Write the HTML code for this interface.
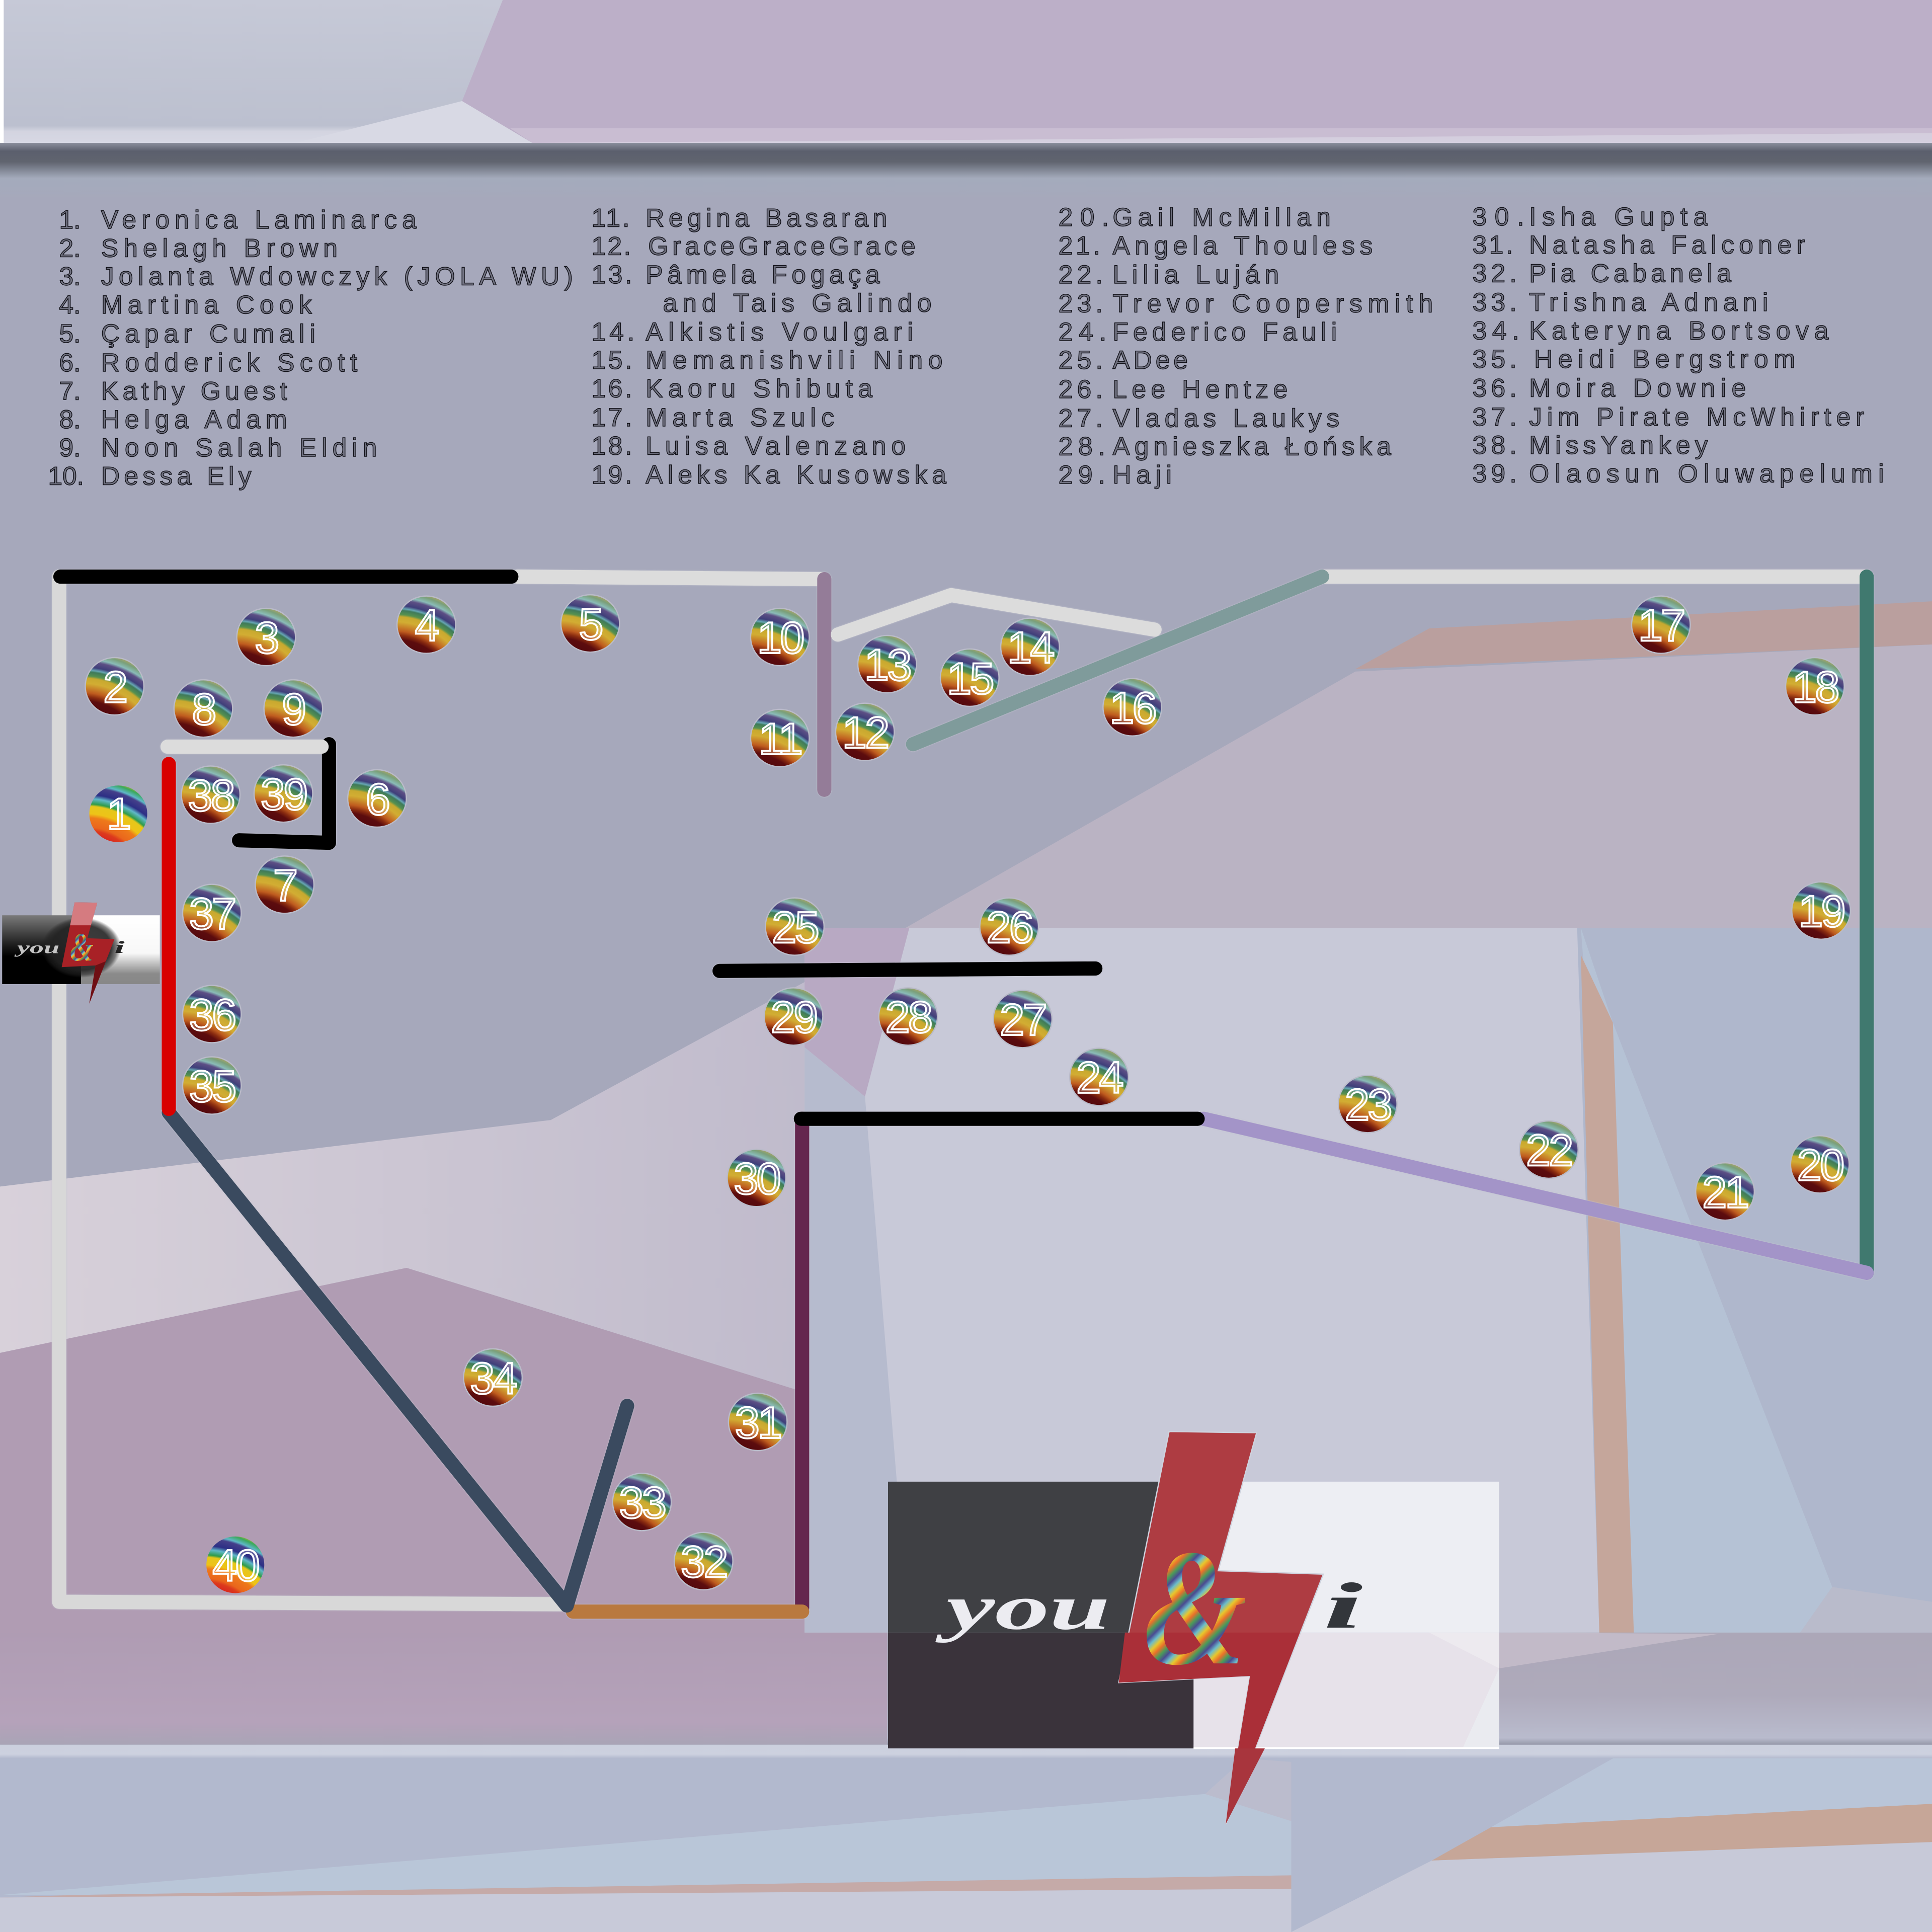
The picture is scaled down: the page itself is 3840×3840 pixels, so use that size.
<!DOCTYPE html>
<html><head><meta charset="utf-8"><style>
html,body{margin:0;padding:0;background:#a6a8bb}
svg{display:block}
.t text{font-family:"Liberation Sans","DejaVu Sans",sans-serif;font-size:21px;fill:#3d3e4a;fill-opacity:.5;stroke:#111118;stroke-width:.6}
.n{font-family:"Liberation Sans",sans-serif;font-size:36px;fill:#fff;fill-opacity:.2;stroke:#fff;stroke-width:1.5;text-anchor:middle;letter-spacing:-1.5px}
.l path{fill:none;stroke-linecap:round;stroke-linejoin:round;stroke-width:11.5}
</style></head><body>
<svg xmlns="http://www.w3.org/2000/svg" width="3840" height="3840" viewBox="0 0 1568 1568">
<defs>
<linearGradient id="top" x1="0" y1="0" x2="0" y2="1"><stop offset="0" stop-color="#c6c9d7"/><stop offset=".88" stop-color="#bcc0cf"/><stop offset=".92" stop-color="#d3d4e0"/><stop offset="1" stop-color="#d7d8e4"/></linearGradient>
<linearGradient id="bar" x1="0" y1="0" x2="0" y2="1"><stop offset="0" stop-color="#8a8e9c"/><stop offset=".14" stop-color="#5b5f6d"/><stop offset=".32" stop-color="#60646f"/><stop offset=".6" stop-color="#a4abbc"/><stop offset="1" stop-color="#a6a8bb"/></linearGradient>
<linearGradient id="pinkL" x1="0" y1="0" x2="1" y2="0"><stop offset="0" stop-color="#d8d1da"/><stop offset="1" stop-color="#c0bbcc"/></linearGradient>
<linearGradient id="band" x1="0" y1="0" x2="0" y2="1"><stop offset="0" stop-color="#aca7b8"/><stop offset=".55" stop-color="#aeaabb"/><stop offset=".93" stop-color="#b9bbcd"/><stop offset="1" stop-color="#8f92a2"/></linearGradient>
<linearGradient id="bandL" x1="0" y1="0" x2="0" y2="1"><stop offset="0" stop-color="#af9cb3"/><stop offset=".8" stop-color="#b5a2ba"/><stop offset="1" stop-color="#a9a4b6"/></linearGradient>
<linearGradient id="strip" x1="0" y1="0" x2="0" y2="1"><stop offset="0" stop-color="#cbd0de"/><stop offset=".7" stop-color="#cdd1df"/><stop offset="1" stop-color="#b3bace"/></linearGradient>
<radialGradient id="rb" gradientUnits="userSpaceOnUse" cx="-26" cy="62" r="92">
<stop offset=".44" stop-color="#4e060c"/><stop offset=".55" stop-color="#5c0c0e"/><stop offset=".585" stop-color="#8a2c10"/><stop offset=".62" stop-color="#bf5c1f"/><stop offset=".66" stop-color="#c9852a"/><stop offset=".7" stop-color="#d2ad33"/><stop offset=".745" stop-color="#c8a92f"/><stop offset=".765" stop-color="#56914f"/><stop offset=".8" stop-color="#3f7a5a"/><stop offset=".815" stop-color="#66a7b3"/><stop offset=".84" stop-color="#3f3f7a"/><stop offset=".885" stop-color="#5d4f85"/><stop offset=".91" stop-color="#8abcb8"/><stop offset=".95" stop-color="#7a9f7a"/><stop offset="1" stop-color="#c9a85c"/>
</radialGradient>
<radialGradient id="rc" gradientUnits="userSpaceOnUse" cx="-26" cy="62" r="92">
<stop offset=".46" stop-color="#d81f1f"/><stop offset=".53" stop-color="#dc3a1d"/><stop offset=".56" stop-color="#ea661c"/><stop offset=".64" stop-color="#ee7a1b"/><stop offset=".675" stop-color="#eec318"/><stop offset=".74" stop-color="#e6c71a"/><stop offset=".76" stop-color="#2f9b4a"/><stop offset=".805" stop-color="#5fb8c8"/><stop offset=".84" stop-color="#2d2f85"/><stop offset=".9" stop-color="#45408a"/><stop offset=".92" stop-color="#5fb8c8"/><stop offset=".96" stop-color="#3aa85c"/><stop offset="1" stop-color="#e8c020"/>
</radialGradient>
<linearGradient id="amp" gradientUnits="userSpaceOnUse" x1="0" y1="0" x2="14" y2="14" spreadMethod="repeat">
<stop offset="0" stop-color="#6bbccb"/><stop offset=".2" stop-color="#e8c72c"/><stop offset=".4" stop-color="#e9702a"/><stop offset=".6" stop-color="#4a9c58"/><stop offset=".8" stop-color="#4a4a92"/><stop offset="1" stop-color="#6bbccb"/>
</linearGradient>
<radialGradient id="vig"><stop offset="0" stop-color="#2a2a2c"/><stop offset=".75" stop-color="#222"/><stop offset=".9" stop-color="#222" stop-opacity=".6"/><stop offset="1" stop-color="#222" stop-opacity="0"/></radialGradient>
<linearGradient id="sL" x1="0" y1="0" x2="0" y2="1"><stop offset="0" stop-color="#7a7a7a"/><stop offset=".45" stop-color="#1a1a1a"/><stop offset=".6" stop-color="#000"/><stop offset="1" stop-color="#000"/></linearGradient>
<linearGradient id="sR" x1="0" y1="0" x2="0" y2="1"><stop offset="0" stop-color="#fff"/><stop offset=".55" stop-color="#f8f8f8"/><stop offset=".85" stop-color="#8a8a8a"/><stop offset="1" stop-color="#888"/></linearGradient>
<symbol id="b" viewBox="-23 -23 46 46" overflow="visible"><ellipse rx="23.3" ry="22.8" fill="url(#rb)" stroke="#babbc9" stroke-width="1"/></symbol>
<symbol id="c" viewBox="-23 -23 46 46" overflow="visible"><ellipse rx="23" ry="22.5" fill="url(#rc)"/></symbol>
</defs>

<!-- background -->
<rect width="1568" height="1568" fill="#a6a8bb"/>
<rect x="0" y="0" width="1568" height="116" fill="url(#top)"/>
<rect x="0" y="0" width="3" height="116" fill="#fff"/>
<polygon points="408,0 375,82 432,116 1568,108 1568,0" fill="#bcafc8"/>
<polygon points="375,82 432,116 240,116" fill="#d8d9e4"/>
<polygon points="414,104 1568,104 1568,116 432,116" fill="#d3c8da" opacity=".55"/>

<!-- main panel -->
<rect x="0" y="116" width="1568" height="1300" fill="#a6a8bb"/>
<rect x="0" y="116" width="1568" height="48" fill="url(#bar)"/>
<polygon points="1568,523 1100,545 735,753 1568,753" fill="#bab3c3"/>
<polygon points="1100,543 1160,510 1568,488 1568,523" fill="#ba9f9e"/>
<polygon points="0,963 447,909 653,797 653,1130 330,1029 0,1098" fill="url(#pinkL)"/>
<polygon points="0,1098 330,1029 653,1130 653,1330 0,1330" fill="#b09cb3"/>
<rect x="653" y="753" width="915" height="575" fill="#c8c9d8"/>
<polygon points="653,753 738,753 702,890 653,850" fill="#b8a9c3"/>
<polygon points="653,850 702,890 738,1325 653,1325" fill="#b6bbce"/>
<polygon points="1280,753 1568,753 1568,1325 1298,1325" fill="#afb7cc"/>
<polygon points="1283,753 1309,830 1487,1288 1461,1325 1326,1325" fill="#b5c2d5"/>
<polygon points="1283,775 1309,830 1326,1325 1298,1325" fill="#c5a69b"/>
<polygon points="1461,1325 1487,1288 1568,1300 1568,1325" fill="#b9bbcb"/>

<!-- lower band -->
<rect x="0" y="1325" width="720" height="91" fill="url(#bandL)"/>
<rect x="720" y="1325" width="848" height="92" fill="url(#band)"/>
<polygon points="1216,1325 1395,1326 1217,1354" fill="#c2bac8"/>

<!-- bottom -->
<rect x="0" y="1417" width="1568" height="151" fill="#b2b9ce"/>
<polygon points="0,1538 978,1456 1048,1450 1048,1522 60,1538" fill="#b9c6d8"/>
<polygon points="978,1456 1048,1478 1048,1430 1010,1427" fill="#bbbccd"/>
<polygon points="60,1538 1048,1522 1048,1533 0,1540" fill="#c5aaa8"/>
<polygon points="0,1540 1048,1533 1048,1568 0,1568" fill="#c8cad9"/>
<polygon points="1048,1417 1327,1417 1048,1572" fill="#b2b9ce"/>
<polygon points="1327,1417 1568,1417 1568,1464 1210,1483" fill="#b9c5d8"/>
<polygon points="1210,1483 1568,1464 1568,1495 1162,1510" fill="#c6a698"/>
<polygon points="1162,1510 1568,1495 1568,1568 1048,1568" fill="#c7c9d8"/>
<rect x="0" y="1416" width="1568" height="11" fill="url(#strip)"/>

<!-- legend -->
<g class="t" transform="translate(0 -.6)">
<text x="48" y="186">1.</text><text x="82" y="186" textLength="256">Veronica Laminarca</text>
<text x="48" y="209">2.</text><text x="82" y="209" textLength="192">Shelagh Brown</text>
<text x="48" y="232">3.</text><text x="82" y="232" textLength="383">Jolanta Wdowczyk (JOLA WU)</text>
<text x="48" y="255">4.</text><text x="82" y="255" textLength="171">Martina Cook</text>
<text x="48" y="278.5">5.</text><text x="82" y="278.5" textLength="174">Çapar Cumali</text>
<text x="48" y="302">6.</text><text x="82" y="302" textLength="208">Rodderick Scott</text>
<text x="48" y="325">7.</text><text x="82" y="325" textLength="151">Kathy Guest</text>
<text x="48" y="348">8.</text><text x="82" y="348" textLength="151">Helga Adam</text>
<text x="48" y="371">9.</text><text x="82" y="371" textLength="224">Noon Salah Eldin</text>
<text x="39" y="394">10.</text><text x="82" y="394" textLength="122">Dessa Ely</text>

<text x="480" y="184.5" textLength="31">11.</text><text x="524" y="184.5" textLength="196">Regina Basaran</text>
<text x="480" y="207.5" textLength="32">12.</text><text x="526" y="207.5" textLength="217">GraceGraceGrace</text>
<text x="480" y="230.5" textLength="33">13.</text><text x="524" y="230.5" textLength="190">Pâmela Fogaça</text>
<text x="538" y="253.5" textLength="218">and Tais Galindo</text>
<text x="480" y="277" textLength="35">14.</text><text x="524" y="277" textLength="217">Alkistis Voulgari</text>
<text x="480" y="300" textLength="33">15.</text><text x="524" y="300" textLength="241">Memanishvili Nino</text>
<text x="480" y="323" textLength="33">16.</text><text x="524" y="323" textLength="184">Kaoru Shibuta</text>
<text x="480" y="346.5" textLength="33">17.</text><text x="524" y="346.5" textLength="153">Marta Szulc</text>
<text x="480" y="369.5" textLength="33">18.</text><text x="524" y="369.5" textLength="211">Luisa Valenzano</text>
<text x="480" y="393" textLength="33">19.</text><text x="524" y="393" textLength="244">Aleks Ka Kusowska</text>

<text x="859" y="184" textLength="41">20.</text><text x="903" y="184" textLength="177">Gail McMillan</text>
<text x="859" y="207" textLength="34">21.</text><text x="903" y="207" textLength="211">Angela Thouless</text>
<text x="859" y="230.5" textLength="36">22.</text><text x="903" y="230.5" textLength="135">Lilia Luján</text>
<text x="859" y="254" textLength="36">23.</text><text x="903" y="254" textLength="260">Trevor Coopersmith</text>
<text x="859" y="277" textLength="39">24.</text><text x="903" y="277" textLength="182">Federico Fauli</text>
<text x="859" y="300" textLength="36">25.</text><text x="903" y="300" textLength="61">ADee</text>
<text x="859" y="323.5" textLength="36">26.</text><text x="903" y="323.5" textLength="142">Lee Hentze</text>
<text x="859" y="347" textLength="36">27.</text><text x="903" y="347" textLength="184">Vladas Laukys</text>
<text x="859" y="370" textLength="38">28.</text><text x="903" y="370" textLength="226">Agnieszka Łońska</text>
<text x="859" y="393" textLength="38">29.</text><text x="903" y="393" textLength="48">Haji</text>

<text x="1195" y="183.5" textLength="42">30.</text><text x="1241" y="183.5" textLength="145">Isha Gupta</text>
<text x="1195" y="206.5" textLength="33">31.</text><text x="1241" y="206.5" textLength="224">Natasha Falconer</text>
<text x="1195" y="229.5" textLength="36">32.</text><text x="1241" y="229.5" textLength="164">Pia Cabanela</text>
<text x="1195" y="253" textLength="36">33.</text><text x="1241" y="253" textLength="194">Trishna Adnani</text>
<text x="1195" y="276" textLength="38">34.</text><text x="1241" y="276" textLength="243">Kateryna Bortsova</text>
<text x="1195" y="299" textLength="36">35.</text><text x="1245" y="299" textLength="212">Heidi Bergstrom</text>
<text x="1195" y="322.5" textLength="36">36.</text><text x="1241" y="322.5" textLength="176">Moira Downie</text>
<text x="1195" y="346" textLength="36">37.</text><text x="1241" y="346" textLength="272">Jim Pirate McWhirter</text>
<text x="1195" y="369" textLength="36">38.</text><text x="1241" y="369" textLength="145">MissYankey</text>
<text x="1195" y="392" textLength="36">39.</text><text x="1241" y="392" textLength="288">Olaosun Oluwapelumi</text>
</g>

<g class="l" style="filter:drop-shadow(0 0 .6px #c4c5d0)">
<path d="M48 468 L48 1300 L458 1302" stroke="#d8d8d8" stroke-width="12"/>
<path d="M420 468 L668 470" stroke="#dcdcdc"/>
<path d="M49 468 L415 468" stroke="#000" stroke-width="12.5"/>
<path d="M669 470 L669 641" stroke="#947c98"/>
<path d="M680 515 L772 483 L937 511" stroke="#dcdcdc"/>
<path d="M1073 468 L1515 468" stroke="#dcdcdc"/>
<path d="M741 604 L1073 468" stroke="#7f9b9b"/>
<path d="M1515 468 L1515 1033" stroke="#40796f"/>
<path d="M977 908 L1515 1033" stroke="#a394c8"/>
<path d="M651 908 L651 1305" stroke="#64264e"/>
<path d="M650 908 L972 908" stroke="#000" stroke-width="12"/>
<path d="M465 1308 L651 1308" stroke="#b9793f"/>
<path d="M137 903 L460 1303 L509 1141" stroke="#3a4a5f" stroke-width="12"/>
<path d="M137 620 L137 900" stroke="#d80000" stroke-width="12"/>
<path d="M267 604 L267 684 L194 682" stroke="#000"/>
<path d="M136 606 L261 606" stroke="#dcdcdc"/>
<path d="M584 788 L889 786" stroke="#000" stroke-width="12"/>
</g>

<!-- small logo -->
<g transform="translate(-184.2 432.6) scale(.258)">
<rect x="720.7" y="1202.5" width="248" height="216.5" fill="url(#sL)"/>
<rect x="968.7" y="1202.5" width="248" height="216.5" fill="url(#sR)"/>
<ellipse cx="970" cy="1304" rx="125" ry="95" fill="url(#vig)" opacity=".9"/>
<polygon points="948.8,1161.8 1019.9,1162.8 988.7,1274.8 1074,1277.6 994.8,1480.4 1014.5,1360.2 908,1365.6" fill="#a82126"/>
<polygon points="948.8,1161.8 1019.9,1162.8 1000,1234 934.5,1234" fill="#d57b80"/>
<polygon points="1047,1347 994.8,1480.4 1014.5,1360.2" fill="#6f0f14"/>
<text x="768" y="1322" font-family="'Liberation Serif',serif" font-style="italic" font-weight="700" font-size="52" fill="#c4c4c4" textLength="133" lengthAdjust="spacingAndGlyphs">you</text>
<text x="934" y="1345" font-family="'Liberation Serif',serif" font-style="italic" font-weight="700" font-size="125" fill="url(#amp)" textLength="74" lengthAdjust="spacingAndGlyphs">&amp;</text>
<text x="1074" y="1321" font-family="'Liberation Serif',serif" font-style="italic" font-weight="700" font-size="53" fill="#222" textLength="32" lengthAdjust="spacingAndGlyphs">i</text>
</g>

<!-- nodes -->
<g>
<use href="#c" x="72.5" y="637" width="47" height="47"/><text class="n" x="96" y="673">1</text>
<use href="#b" x="69.5" y="533.5" width="47" height="47"/><text class="n" x="93" y="570">2</text>
<use href="#b" x="192.5" y="493.5" width="47" height="47"/><text class="n" x="216" y="530">3</text>
<use href="#b" x="322.5" y="483.5" width="47" height="47"/><text class="n" x="346" y="520">4</text>
<use href="#b" x="455.5" y="482.5" width="47" height="47"/><text class="n" x="479" y="519">5</text>
<use href="#b" x="282.5" y="624.5" width="47" height="47"/><text class="n" x="306" y="661">6</text>
<use href="#b" x="207.5" y="694.5" width="47" height="47"/><text class="n" x="231" y="731">7</text>
<use href="#b" x="141.5" y="551.5" width="47" height="47"/><text class="n" x="165" y="588">8</text>
<use href="#b" x="214.5" y="551.5" width="47" height="47"/><text class="n" x="238" y="588">9</text>
<use href="#b" x="609.5" y="493.5" width="47" height="47"/><text class="n" x="633" y="530">10</text>
<use href="#b" x="609.5" y="575.5" width="47" height="47"/><text class="n" x="633" y="612">11</text>
<use href="#b" x="678.5" y="570.5" width="47" height="47"/><text class="n" x="702" y="607">12</text>
<use href="#b" x="696.5" y="515.5" width="47" height="47"/><text class="n" x="720" y="552">13</text>
<use href="#b" x="812.5" y="501.5" width="47" height="47"/><text class="n" x="836" y="538">14</text>
<use href="#b" x="763.5" y="526.5" width="47" height="47"/><text class="n" x="787" y="563">15</text>
<use href="#b" x="895.5" y="550.5" width="47" height="47"/><text class="n" x="919" y="587">16</text>
<use href="#b" x="1324.5" y="483.5" width="47" height="47"/><text class="n" x="1348" y="520">17</text>
<use href="#b" x="1449.5" y="533.5" width="47" height="47"/><text class="n" x="1473" y="570">18</text>
<use href="#b" x="1454.5" y="715.5" width="47" height="47"/><text class="n" x="1478" y="752">19</text>
<use href="#b" x="1453.5" y="921.5" width="47" height="47"/><text class="n" x="1477" y="958">20</text>
<use href="#b" x="1376.5" y="943.5" width="47" height="47"/><text class="n" x="1400" y="980">21</text>
<use href="#b" x="1233.5" y="909.5" width="47" height="47"/><text class="n" x="1257" y="946">22</text>
<use href="#b" x="1086.5" y="872.5" width="47" height="47"/><text class="n" x="1110" y="909">23</text>
<use href="#b" x="868.5" y="850.5" width="47" height="47"/><text class="n" x="892" y="887">24</text>
<use href="#b" x="621.5" y="728.5" width="47" height="47"/><text class="n" x="645" y="765">25</text>
<use href="#b" x="795.5" y="728.5" width="47" height="47"/><text class="n" x="819" y="765">26</text>
<use href="#b" x="806.5" y="803.5" width="47" height="47"/><text class="n" x="830" y="840">27</text>
<use href="#b" x="713.5" y="801.5" width="47" height="47"/><text class="n" x="737" y="838">28</text>
<use href="#b" x="620.5" y="801.5" width="47" height="47"/><text class="n" x="644" y="838">29</text>
<use href="#b" x="590.5" y="932.5" width="47" height="47"/><text class="n" x="614" y="969">30</text>
<use href="#b" x="591.5" y="1130.5" width="47" height="47"/><text class="n" x="615" y="1167">31</text>
<use href="#b" x="547.5" y="1243.5" width="47" height="47"/><text class="n" x="571" y="1280">32</text>
<use href="#b" x="497.5" y="1195.5" width="47" height="47"/><text class="n" x="521" y="1232">33</text>
<use href="#b" x="376.5" y="1094.5" width="47" height="47"/><text class="n" x="400" y="1131">34</text>
<use href="#b" x="148.5" y="857.5" width="47" height="47"/><text class="n" x="172" y="894">35</text>
<use href="#b" x="148.5" y="799.5" width="47" height="47"/><text class="n" x="172" y="836">36</text>
<use href="#b" x="148.5" y="717.5" width="47" height="47"/><text class="n" x="172" y="754">37</text>
<use href="#b" x="147.5" y="621.5" width="47" height="47"/><text class="n" x="171" y="658">38</text>
<use href="#b" x="206.5" y="620.5" width="47" height="47"/><text class="n" x="230" y="657">39</text>
<use href="#c" x="167.5" y="1246.5" width="47" height="47"/><text class="n" x="191" y="1283">40</text>
</g>

<!-- big logo -->
<rect x="720.7" y="1202.5" width="248" height="122.5" fill="#3f4044"/>
<rect x="720.7" y="1325" width="248" height="94" fill="#3a333b"/>
<rect x="968.7" y="1202.5" width="248" height="122.5" fill="#edeef3"/>
<rect x="968.7" y="1325" width="248" height="94" fill="#e7e2ea"/>
<polygon points="968.7,1325 1216.7,1325 1216.7,1354 1160,1325" fill="#edeaef"/>
<polygon points="1187,1419 1216.7,1354 1216.7,1419" fill="#eaebf0"/>
<rect x="968.7" y="1418" width="248" height="1.5" fill="#fff"/>
<polygon points="948.8,1161.8 1019.9,1162.8 988.7,1274.8 1074,1277.6 994.8,1480.4 1014.5,1360.2 908,1365.6" fill="#ae3c42" stroke="#cfd3de" stroke-width="1"/>
<polygon points="913,1325 1055,1325 994.8,1480.4 1014.5,1360.2 908,1365.6" fill="#aa2f38"/>
<polygon points="1002.5,1419 1026.5,1419 994.8,1480.4" fill="#a8353d"/>
<text x="768" y="1322" font-family="'Liberation Serif',serif" font-style="italic" font-weight="700" font-size="52" fill="#ececf1" textLength="133" lengthAdjust="spacingAndGlyphs">you</text>
<text x="928" y="1350" font-family="'Liberation Serif',serif" font-style="italic" font-weight="700" font-size="135" fill="url(#amp)" textLength="84" lengthAdjust="spacingAndGlyphs">&amp;</text>
<text x="1074" y="1321" font-family="'Liberation Serif',serif" font-style="italic" font-weight="700" font-size="53" fill="#33363b" textLength="32" lengthAdjust="spacingAndGlyphs">i</text>
</svg>
</body></html>
